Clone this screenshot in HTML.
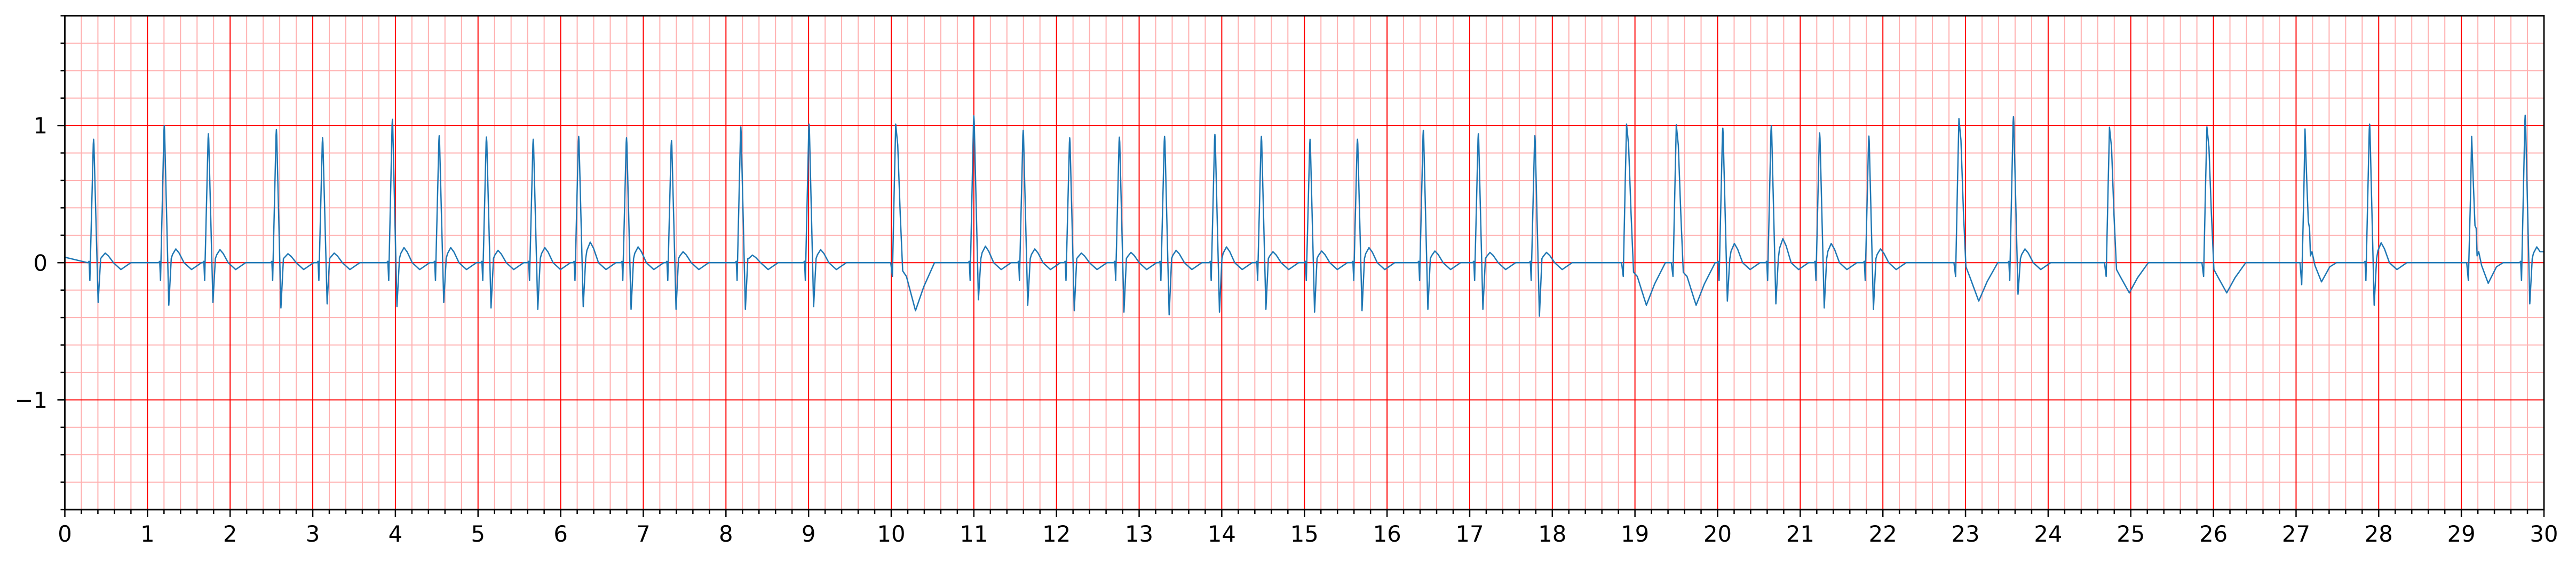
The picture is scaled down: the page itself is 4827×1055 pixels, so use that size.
<!DOCTYPE html>
<html><head><meta charset="utf-8"><style>
html,body{margin:0;padding:0;background:#fff;}
svg{display:block;}
text{font-family:"DejaVu Sans","Liberation Sans",sans-serif;font-size:41.7px;fill:#000;}
</style></head>
<body>
<svg id="chart" width="4827" height="1055" viewBox="0 0 4827 1055" xmlns="http://www.w3.org/2000/svg">
<g id="grid"></g>
<path id="trace" fill="none" stroke="#1f77b4" stroke-width="2.5" stroke-linejoin="round"/>
<g id="axes"></g>
</svg>
<script>
// Data: beat times (s), R amplitude, S amplitude, T amplitude (negative trough for wide beats), kind, shoulder
const beatT = [0.348,1.203,1.737,2.56,3.119,3.964,4.53,5.102,5.668,6.218,6.797,7.341,8.18,9.006,10.054,11.0,11.597,12.16,12.761,13.308,13.917,14.479,15.068,15.642,16.439,17.105,17.789,18.898,19.50,20.063,20.65,21.235,21.831,22.92,23.58,24.742,25.921,27.108,27.89,29.125,29.773];
const rAmp = [0.90,1.0,0.94,0.97,0.91,1.045,0.926,0.916,0.90,0.92,0.91,0.89,0.99,1.01,1.01,1.07,0.965,0.91,0.915,0.92,0.935,0.92,0.90,0.90,0.965,0.94,0.926,1.01,1.006,0.98,1.0,0.945,0.923,1.05,1.065,0.987,0.99,0.975,1.01,0.92,1.075];
const sAmp = [-0.29,-0.31,-0.29,-0.33,-0.30,-0.32,-0.29,-0.33,-0.34,-0.32,-0.34,-0.34,-0.34,-0.32,-0.06,-0.27,-0.31,-0.35,-0.36,-0.38,-0.36,-0.34,-0.36,-0.35,-0.34,-0.34,-0.39,-0.07,-0.07,-0.28,-0.30,-0.33,-0.34,-0.03,-0.23,-0.05,-0.05,-0.16,-0.31,-0.13,-0.30];
const tAmp = [0.07,0.10,0.095,0.065,0.07,0.11,0.11,0.09,0.11,0.15,0.115,0.08,0.055,0.095,-0.35,0.12,0.10,0.07,0.075,0.09,0.115,0.08,0.085,0.11,0.085,0.075,0.075,-0.31,-0.31,0.14,0.175,0.14,0.10,-0.28,0.10,-0.22,-0.22,-0.14,0.145,-0.15,0.115];
const kind = ['N','N','N','N','N','N','N','N','N','N','N','N','N','N','W','N','N','N','N','N','N','N','N','N','N','N','N','W','W','N','N','N','N','W','N','W','W','P','N','P','N'];
const shoulder = [0,0,0,0,0,0,0,0,0,0,0,0,0,0,0,0,0,0,0,0,0,0,0,0,0,0,0,0,0,0,0,0,0,0,0,0,0,0.30,0,0.27,0];
const xTicks = [0,1,2,3,4,5,6,7,8,9,10,11,12,13,14,15,16,17,18,19,20,21,22,23,24,25,26,27,28,29,30];
const yTicks = [-1,0,1];
const yTickLabels = ['\u22121','0','1'];

const L=121.5,R=4767,T=29.5,B=955;
const X0=0,X1=30,Y0=-1.8,Y1=1.8;
function sx(v){return L+(v-X0)/(X1-X0)*(R-L);}
function sy(v){return B-(v-Y0)/(Y1-Y0)*(B-T);}
const NS='http://www.w3.org/2000/svg';
function mk(tag,attrs,parent){const e=document.createElementNS(NS,tag);for(const k in attrs)e.setAttribute(k,attrs[k]);parent.appendChild(e);return e;}

const grid=document.getElementById('grid');
for(let i=0;i<=150;i++){const v=i*0.2;if(i%5===0)continue;
 const l=mk('line',{x1:sx(v),x2:sx(v),y1:T,y2:B,stroke:'#ffb0b0','stroke-width':2},grid);
 
 }
for(let i=-9;i<=9;i++){if(i%5===0)continue;const v=i*0.2;
 const l=mk('line',{x1:L,x2:R,y1:sy(v),y2:sy(v),stroke:'#ffb0b0','stroke-width':2},grid);
 
 }
xTicks.forEach(v=>{const l=mk('line',{x1:sx(v),x2:sx(v),y1:T,y2:B,stroke:'#ff0000','stroke-width':2},grid);
 
 });
yTicks.forEach(v=>{const l=mk('line',{x1:L,x2:R,y1:sy(v),y2:sy(v),stroke:'#ff0000','stroke-width':2},grid);
 
 });

function beatPoints(i){
 const t0=beatT[i],r=rAmp[i],s=sAmp[i],ta=tAmp[i],k=kind[i];let p;
 if(k==='N'){p=[[-0.07,0],[-0.055,0.01],[-0.045,-0.13],[-0.004,0.96*r],[0,r],[0.004,0.96*r],[0.055,s],[0.085,0.03],[0.1,0.6*ta],[0.14,ta],[0.18,0.7*ta],[0.24,0],[0.33,-0.05],[0.45,0]];}
 else if(k==='W'){p=[[-0.06,0],[-0.04,-0.1],[-0.015,0.6*r],[0,r],[0.025,0.85*r],[0.055,0.35*r],[0.085,s],[0.13,-0.1],[0.24,ta],[0.34,0.5*ta],[0.47,0]];}
 else {const sh=shoulder[i];p=[[-0.06,0],[-0.04,s],[-0.015,0.5*r],[0,r],[0.022,0.6*r],[0.04,sh],[0.055,0.25],[0.066,0.05],[0.085,0.08],[0.12,-0.02],[0.2,ta],[0.3,-0.03],[0.38,0]];}
 const lim=i+1<beatT.length?beatT[i+1]-0.075:X1;
 return p.map(q=>[t0+q[0],q[1]]).filter(q=>q[0]<lim);
}
let pts=[[0,0.04]];
for(let i=0;i<beatT.length;i++)pts=pts.concat(beatPoints(i));
pts.push([30,0.08]);
let d='';pts.forEach((q,j)=>{d+=(j?'L':'M')+sx(q[0]).toFixed(1)+','+sy(q[1]).toFixed(1);});
document.getElementById('trace').setAttribute('d',d);

const ax=document.getElementById('axes');
const frame=mk('rect',{x:L,y:T,width:R-L,height:B-T,fill:'none',stroke:'#000','stroke-width':2.8},ax);


for(let i=0;i<=150;i++){const v=i*0.2;const maj=i%5===0;
 const tk=mk('line',{x1:sx(v),x2:sx(v),y1:B,y2:B+(maj?14:8),stroke:'#000','stroke-width':2.5},ax);
 
 }
for(let i=-9;i<=9;i++){const v=i*0.2;const maj=i%5===0;
 const tk=mk('line',{x1:L,x2:L-(maj?14:8),y1:sy(v),y2:sy(v),stroke:'#000','stroke-width':2.5},ax);
 
 }
xTicks.forEach(v=>{const t=mk('text',{x:sx(v),y:1015,'text-anchor':'middle'},ax);t.textContent=String(v);
 
 });
yTicks.forEach((v,i)=>{const t=mk('text',{x:89,y:sy(v)+15,'text-anchor':'end'},ax);t.textContent=yTickLabels[i];
 
 });
</script>
</body></html>
